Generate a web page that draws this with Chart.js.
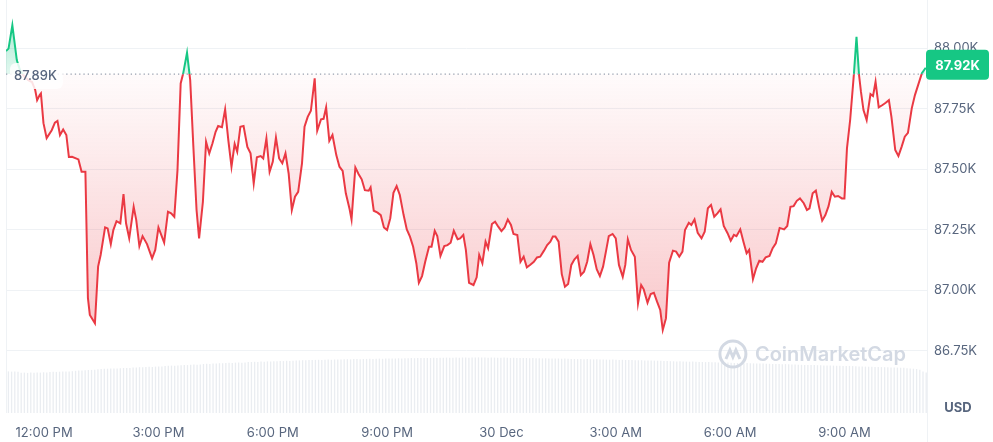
<!DOCTYPE html>
<html>
<head>
<meta charset="utf-8">
<script src="https://cdn.jsdelivr.net/npm/chart.js@4.4.1/dist/chart.umd.min.js"></script>
<style>
  html, body { margin: 0; padding: 0; background: #fff; }
  #wrap { width: 993px; height: 442px; position: relative; }
</style>
</head>
<body>
<div id="wrap"><canvas id="chart"></canvas></div>
<script>
// minutes from 12:00 PM (29 Dec)
const TIMES = [
  -60, -56, -50, -43, -38, -32, -25, -19, -14, -11, -7, -5, -1, 4, 12, 17, 21, 25, 30, 35,
  39, 44, 54, 59, 65, 69, 72, 80, 85, 89, 96, 100, 105, 109, 114, 120, 125, 129, 134, 141,
  145, 150, 155, 162, 170, 175, 180, 189, 195, 200, 205, 210, 215, 219, 225, 230, 235, 240, 244, 250,
  255, 260, 265, 270, 274, 280, 285, 290, 295, 300, 304, 309, 314, 320, 325, 330, 335, 341, 345, 350,
  355, 360, 365, 370, 375, 380, 385, 390, 395, 400, 406, 410, 415, 420, 426, 430, 436, 440, 444, 449,
  454, 460, 465, 470, 475, 481, 484, 490, 495, 500, 505, 511, 514, 519, 525, 530, 535, 540, 545, 550,
  555, 560, 566, 571, 576, 581, 586, 590, 595, 600, 606, 610, 615, 619, 624, 630, 635, 640, 645, 651,
  655, 660, 664, 669, 676, 681, 685, 690, 695, 699, 705, 710, 715, 720, 725, 730, 735, 739, 745, 750,
  755, 760, 765, 771, 776, 781, 787, 792, 797, 801, 805, 810, 815, 820, 825, 830, 835, 840, 845, 850,
  855, 860, 865, 870, 875, 880, 885, 889, 895, 900, 905, 911, 915, 919, 924, 930, 935, 940, 944, 950,
  955, 960, 965, 970, 974, 979, 984, 990, 995, 1000, 1005, 1009, 1015, 1019, 1024, 1029, 1035, 1040, 1045, 1050,
  1055, 1060, 1065, 1070, 1076, 1081, 1086, 1090, 1096, 1101, 1106, 1110, 1116, 1121, 1126, 1131, 1136, 1142, 1147, 1152,
  1158, 1165, 1170, 1175, 1180, 1185, 1190, 1196, 1201, 1205, 1210, 1215, 1220, 1225, 1230, 1235, 1240, 1245, 1250, 1256,
  1260, 1264, 1269, 1275, 1279, 1283, 1286, 1290, 1295, 1301, 1305, 1309, 1314, 1320, 1325, 1330, 1334, 1340, 1345, 1350,
  1355, 1360, 1366, 1371, 1376, 1382, 1388
];

// BTC price, USD
const PRICES = [
  87989, 87999, 88096, 87952, 87910, 87886, 87869, 87861, 87828, 87786, 87807, 87814, 87691, 87629, 87662, 87693, 87700, 87642, 87665, 87642,
  87551, 87552, 87541, 87490, 87490, 86968, 86898, 86864, 87098, 87146, 87260, 87256, 87191, 87249, 87286, 87277, 87398, 87277, 87215, 87345,
  87291, 87183, 87224, 87191, 87132, 87167, 87260, 87197, 87325, 87318, 87304, 87497, 87855, 87897, 87982, 87869, 87593, 87332, 87215, 87366,
  87614, 87566, 87607, 87655, 87679, 87674, 87748, 87621, 87511, 87605, 87573, 87676, 87679, 87593, 87566, 87442, 87550, 87555, 87545, 87628,
  87490, 87531, 87631, 87545, 87525, 87566, 87483, 87332, 87387, 87407, 87525, 87676, 87717, 87742, 87876, 87660, 87707, 87709, 87756, 87618,
  87642, 87559, 87511, 87494, 87401, 87335, 87293, 87508, 87481, 87459, 87414, 87412, 87426, 87329, 87321, 87311, 87260, 87249, 87298, 87403,
  87431, 87394, 87311, 87252, 87222, 87180, 87112, 87031, 87059, 87118, 87180, 87180, 87246, 87224, 87142, 87183, 87187, 87197, 87246, 87211,
  87215, 87229, 87167, 87031, 87022, 87054, 87146, 87112, 87201, 87174, 87274, 87284, 87263, 87245, 87260, 87293, 87270, 87233, 87229, 87118,
  87139, 87095, 87105, 87118, 87136, 87139, 87164, 87187, 87201, 87222, 87222, 87201, 87067, 87015, 87026, 87105, 87128, 87142, 87063, 87077,
  87118, 87191, 87146, 87087, 87059, 87098, 87167, 87224, 87233, 87215, 87105, 87056, 87105, 87211, 87167, 87139, 86946, 87022, 87004, 86949,
  86985, 86990, 86953, 86919, 86836, 86884, 87114, 87164, 87160, 87139, 87160, 87249, 87279, 87270, 87293, 87238, 87215, 87242, 87339, 87353,
  87304, 87318, 87335, 87266, 87236, 87205, 87229, 87224, 87252, 87201, 87153, 87167, 87046, 87091, 87122, 87118, 87136, 87142, 87174, 87194,
  87258, 87252, 87266, 87345, 87348, 87370, 87380, 87360, 87332, 87339, 87401, 87412, 87345, 87288, 87311, 87348, 87407, 87387, 87390, 87380,
  87380, 87587, 87704, 87897, 88048, 87890, 87821, 87745, 87704, 87811, 87803, 87862, 87756, 87766, 87775, 87786, 87717, 87580, 87555, 87593,
  87635, 87651, 87752, 87807, 87848, 87897, 87920
];

// 24h volume, billions USD (one bar per 5 minutes)
const VOLUME = [
  41.6, 41.4, 41.5, 41.2,
  40.2, 40.4, 40.1, 40.5, 40.3, 40.6, 40.4, 40.7, 40.5,
  41.0, 41.2, 41.1, 41.3, 41.5, 41.4, 41.6, 41.8,
  42.2, 42.5, 42.4, 42.8, 43.0, 43.1, 43.3,
  43.8, 44.0, 44.2, 44.3, 44.5, 44.4, 44.6, 44.8, 45.0, 44.9, 45.1,
  45.5, 45.6, 45.8, 45.7, 46.0, 46.2, 46.1, 46.4, 46.6, 46.5,
  47.0, 47.2, 47.4, 47.3, 47.6, 47.8, 48.0, 47.9, 48.2, 48.4, 48.3, 48.6,
  49.0, 49.2, 49.1, 49.4, 49.6, 49.8, 49.7, 50.0, 50.2, 50.1, 50.4, 50.5, 50.3, 50.6,
  50.9, 51.0, 51.2, 51.1, 51.4, 51.3, 51.6, 51.5, 51.8, 51.7, 52.0, 51.9, 52.2, 52.1, 52.3, 52.4,
  52.6, 52.8, 52.7, 53.0, 52.9, 53.1, 53.2, 53.0, 53.3, 53.4, 53.2, 53.5, 53.6, 53.4, 53.7, 53.8, 53.6, 53.9, 54.0, 53.8,
  54.0, 54.1, 54.2, 54.0, 54.3, 54.4, 54.2, 54.5, 54.4, 54.6, 54.5, 54.7, 54.6, 54.8, 54.7, 54.9, 54.8, 55.0, 54.9, 55.0,
  55.1, 55.0, 55.2, 55.1, 55.3, 55.2, 55.4, 55.3, 55.2, 55.4, 55.3, 55.5, 55.4, 55.3, 55.5, 55.4, 55.6, 55.5, 55.4, 55.3,
  55.5, 55.4, 55.3, 55.2, 55.4, 55.3, 55.1, 55.2, 55.0, 55.1, 54.9, 55.0, 54.8, 54.9, 54.7, 54.8, 54.6, 54.7, 54.5, 54.6,
  54.4, 54.5, 54.3, 54.4, 54.2,
  54.1, 54.0, 53.9, 54.0, 53.8, 53.9, 53.7, 53.6, 53.7, 53.5, 53.6, 53.4, 53.3, 53.4, 53.2, 53.1, 53.2, 53.0, 52.9, 53.0,
  52.8, 52.7, 52.8, 52.6, 52.5, 52.6, 52.4, 52.3, 52.2, 52.1,
  51.9, 51.8, 51.7, 51.6, 51.7, 51.5, 51.4, 51.3, 51.4, 51.2, 51.1, 51.0, 50.9, 51.0, 50.8, 50.7, 50.6, 50.7, 50.5, 50.4,
  50.2, 50.1, 50.0, 49.9, 49.8, 49.9, 49.7, 49.6, 49.5, 49.4, 49.5, 49.3, 49.2, 49.1, 49.0, 48.9, 48.8, 48.9, 48.7, 48.6,
  48.4, 48.3, 48.2, 48.1, 48.0, 47.9, 48.0, 47.8, 47.7, 47.6, 47.5, 47.6, 47.4, 47.3, 47.2, 47.1, 47.0, 47.1, 46.9, 46.8,
  46.6, 46.5, 46.4, 46.3, 46.2, 46.1, 46.0, 45.9, 45.8, 45.7, 45.6, 45.5, 45.4, 45.3, 45.2,
  44.8, 44.6, 44.3, 44.0, 43.2, 41.5, 40.6
];

const OPEN_PRICE = 87894;
const Y_TICKS = [86750, 87000, 87250, 87500, 87750, 88000];
const X_TICK_TIMES = [0, 180, 360, 540, 720, 900, 1080, 1260];
const X_TICK_LABELS = ["12:00 PM", "3:00 PM", "6:00 PM", "9:00 PM", "30 Dec", "3:00 AM", "6:00 AM", "9:00 AM"];

const GREEN = "#16c784";
const RED = "#ea3943";
const TEXT = "#58667e";
const GRID = "#eff2f5";
const FONT = "Inter, 'Noto Sans', sans-serif";

const fmtK = (v) => (v / 1000).toFixed(2) + "K";

function splitStroke(chart) {
  const { chartArea, scales, ctx } = chart;
  if (!chartArea) return RED;
  const yb = scales.y.getPixelForValue(OPEN_PRICE);
  const p = Math.min(1, Math.max(0, (yb - chartArea.top) / (chartArea.bottom - chartArea.top)));
  const g = ctx.createLinearGradient(0, chartArea.top, 0, chartArea.bottom);
  g.addColorStop(0, GREEN);
  g.addColorStop(p, GREEN);
  g.addColorStop(p, RED);
  g.addColorStop(1, RED);
  return g;
}

function belowFill(chart) {
  const { chartArea, scales, ctx } = chart;
  if (!chartArea) return "rgba(234,57,67,0.1)";
  const y0 = scales.y.getPixelForValue(OPEN_PRICE);
  const y1 = scales.y.getPixelForValue(Math.min(...PRICES));
  const g = ctx.createLinearGradient(0, y0, 0, y1);
  g.addColorStop(0, "rgba(234,57,67,0.02)");
  g.addColorStop(1, "rgba(234,57,67,0.28)");
  return g;
}

function aboveFill(chart) {
  const { chartArea, scales, ctx } = chart;
  if (!chartArea) return "rgba(22,199,132,0.2)";
  const y0 = scales.y.getPixelForValue(OPEN_PRICE);
  const y1 = scales.y.getPixelForValue(Math.max(...PRICES));
  const g = ctx.createLinearGradient(0, y0, 0, y1);
  g.addColorStop(0, "rgba(22,199,132,0.12)");
  g.addColorStop(1, "rgba(22,199,132,0.35)");
  return g;
}

function roundRect(ctx, x, y, w, h, r) {
  ctx.beginPath();
  ctx.moveTo(x + r, y);
  ctx.arcTo(x + w, y, x + w, y + h, r);
  ctx.arcTo(x + w, y + h, x, y + h, r);
  ctx.arcTo(x, y + h, x, y, r);
  ctx.arcTo(x, y, x + w, y, r);
  ctx.closePath();
}

const decor = {
  id: "decor",
  beforeDatasetsDraw(chart) {
    const { ctx, chartArea: a } = chart;
    ctx.save();
    ctx.strokeStyle = GRID;
    ctx.lineWidth = 1;
    ctx.beginPath();
    ctx.moveTo(a.left + 0.5, a.top);
    ctx.lineTo(a.left + 0.5, a.bottom);
    ctx.moveTo(a.right + 0.5, a.top);
    ctx.lineTo(a.right + 0.5, chart.height);
    ctx.stroke();
    ctx.restore();
  },
  afterDatasetsDraw(chart) {
    const { ctx, chartArea: a, scales } = chart;
    const yb = scales.y.getPixelForValue(OPEN_PRICE);
    ctx.save();

    // watermark
    ctx.font = `600 20px ${FONT}`;
    ctx.fillStyle = "#d3d9e3";
    ctx.textAlign = "right";
    ctx.textBaseline = "middle";
    const tx = a.right - 21;
    const ty = a.bottom - 58;
    ctx.fillText("CoinMarketCap", tx, ty);
    const tw = ctx.measureText("CoinMarketCap").width;
    const cx = tx - tw - 22, cy = ty - 1;
    ctx.strokeStyle = "#d3d9e3";
    ctx.lineWidth = 3;
    ctx.beginPath();
    ctx.arc(cx, cy, 13, 0, Math.PI * 2);
    ctx.stroke();
    ctx.beginPath();
    ctx.moveTo(cx - 7, cy + 5);
    ctx.lineTo(cx - 3, cy - 4);
    ctx.lineTo(cx, cy + 3);
    ctx.lineTo(cx + 3, cy - 4);
    ctx.lineTo(cx + 7, cy + 5);
    ctx.stroke();

    // dotted open-price line
    ctx.strokeStyle = "#98a1b0";
    ctx.lineWidth = 1.3;
    ctx.setLineDash([1.3, 3]);
    ctx.beginPath();
    ctx.moveTo(a.left, yb);
    ctx.lineTo(a.right, yb);
    ctx.stroke();
    ctx.setLineDash([]);

    // open price label
    ctx.font = `500 13px ${FONT}`;
    const ow = ctx.measureText(fmtK(OPEN_PRICE)).width;
    ctx.fillStyle = "rgba(255,255,255,0.85)";
    roundRect(ctx, a.left + 4, yb - 11, ow + 10, 26, 6);
    ctx.fill();
    ctx.fillStyle = TEXT;
    ctx.textAlign = "left";
    ctx.fillText(fmtK(OPEN_PRICE), a.left + 8, yb + 2);

    // last price badge
    const last = PRICES[PRICES.length - 1];
    const yl = scales.y.getPixelForValue(last) - 3;
    ctx.fillStyle = GREEN;
    roundRect(ctx, a.right - 1, yl - 15, 63, 30, 4);
    ctx.fill();
    ctx.fillStyle = "#fff";
    ctx.font = `700 13px ${FONT}`;
    ctx.textAlign = "center";
    ctx.fillText(fmtK(last), a.right + 30.5, yl + 1);

    // currency
    ctx.fillStyle = TEXT;
    ctx.font = `700 13px ${FONT}`;
    ctx.fillText("USD", a.right + 31, a.bottom - 5);
    ctx.restore();
  },
};

const ctx = document.getElementById("chart");
new Chart(ctx, {
  type: "line",
  data: {
    datasets: [
      {
        type: "line",
        data: TIMES.map((t, i) => ({ x: t, y: PRICES[i] })),
        borderColor: (c) => splitStroke(c.chart),
        borderWidth: 2,
        pointRadius: 0,
        tension: 0,
        fill: (c) => ({
          target: { value: OPEN_PRICE },
          above: aboveFill(c.chart),
          below: belowFill(c.chart),
        }),
        order: 1,
      },
      {
        type: "bar",
        data: VOLUME,
        xAxisID: "xv",
        yAxisID: "yv",
        backgroundColor: "#eaedf1",
        barPercentage: 0.82,
        categoryPercentage: 1,
        order: 2,
      },
    ],
  },
  options: {
    responsive: true,
    maintainAspectRatio: false,
    animation: false,
    layout: { padding: { left: 6, top: 0, right: 0, bottom: 0 } },
    plugins: { legend: { display: false }, tooltip: { enabled: false } },
    scales: {
      x: {
        type: "linear",
        min: -60,
        max: 1390,
        grid: { display: false, drawTicks: false },
        border: { display: false },
        afterBuildTicks: (s) => { s.ticks = X_TICK_TIMES.map((v) => ({ value: v })); },
        afterFit: (s) => { s.height = 29; s.paddingLeft = 0; s.paddingRight = 0; },
        ticks: {
          padding: 12,
          maxRotation: 0,
          autoSkip: false,
          color: TEXT,
          font: { family: FONT, size: 13 },
          callback: (v) => X_TICK_LABELS[X_TICK_TIMES.indexOf(v)] ?? "",
        },
      },
      xv: {
        type: "category",
        display: false,
        labels: VOLUME.map((_, i) => String(i)),
        offset: true,
      },
      y: {
        position: "right",
        min: 86493,
        max: 88200,
        grid: { color: GRID, drawTicks: false },
        border: { display: false },
        afterBuildTicks: (s) => { s.ticks = Y_TICKS.map((v) => ({ value: v })); },
        afterFit: (s) => { s.width = 66; s.paddingTop = 0; s.paddingBottom = 0; },
        ticks: {
          padding: 7,
          color: TEXT,
          font: { family: FONT, size: 13 },
          callback: (v) => fmtK(v),
        },
      },
      yv: {
        display: false,
        min: 0,
        max: 413,
      },
    },
  },
  plugins: [decor],
});
</script>
</body>
</html>
